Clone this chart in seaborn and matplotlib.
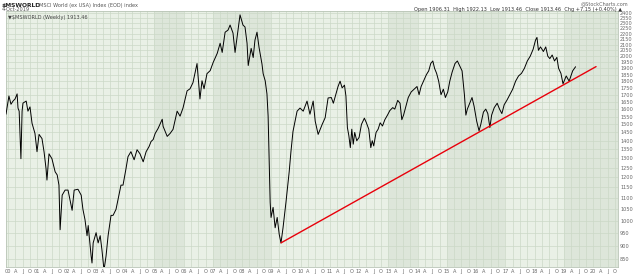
import matplotlib
matplotlib.use("Agg")
import matplotlib.pyplot as plt
import numpy as np
import pandas as pd
import seaborn as sns

# ---- data (decimal year, index value) ----
dates = [1999.93, 2000.03, 2000.10, 2000.17, 2000.24, 2000.31, 2000.34, 2000.38, 2000.44, 2000.48,
         2000.51, 2000.62, 2000.68, 2000.75, 2000.82, 2000.92, 2000.99, 2001.06, 2001.16, 2001.23,
         2001.30, 2001.33, 2001.40, 2001.50, 2001.61, 2001.68, 2001.71, 2001.74, 2001.78, 2001.85,
         2001.95, 2002.05, 2002.19, 2002.26, 2002.39, 2002.50, 2002.56, 2002.63, 2002.70, 2002.74,
         2002.84, 2002.87, 2002.91, 2003.01, 2003.08, 2003.15, 2003.21, 2003.28, 2003.35, 2003.42,
         2003.52, 2003.59, 2003.69, 2003.76, 2003.86, 2003.93, 2004.03, 2004.10, 2004.20, 2004.31,
         2004.41, 2004.51, 2004.62, 2004.72, 2004.82, 2004.89, 2004.96, 2005.03, 2005.13, 2005.27,
         2005.30, 2005.44, 2005.54, 2005.64, 2005.78, 2005.88, 2005.98, 2006.12, 2006.22, 2006.32,
         2006.46, 2006.50, 2006.56, 2006.63, 2006.70, 2006.80, 2006.91, 2007.01, 2007.15, 2007.25,
         2007.32, 2007.42, 2007.52, 2007.59, 2007.69, 2007.76, 2007.83, 2007.93, 2008.03, 2008.10,
         2008.17, 2008.21, 2008.31, 2008.38, 2008.44, 2008.51, 2008.58, 2008.68, 2008.72, 2008.79,
         2008.85, 2008.89, 2008.92, 2008.96, 2008.99, 2009.06, 2009.13, 2009.20, 2009.27, 2009.33,
         2009.40, 2009.50, 2009.61, 2009.67, 2009.74, 2009.88, 2009.98, 2010.09, 2010.22, 2010.32,
         2010.43, 2010.50, 2010.60, 2010.74, 2010.84, 2010.94,
         2011.05, 2011.12, 2011.20, 2011.28, 2011.35, 2011.42, 2011.50, 2011.55, 2011.60, 2011.65,
         2011.70, 2011.75, 2011.80, 2011.85, 2011.92, 2012.00, 2012.08, 2012.18, 2012.25, 2012.33,
         2012.40, 2012.45, 2012.50, 2012.58, 2012.65, 2012.72, 2012.80, 2012.88, 2012.97, 2013.05,
         2013.15, 2013.22, 2013.32, 2013.40, 2013.46, 2013.52, 2013.60, 2013.68, 2013.78, 2013.88,
         2013.98, 2014.05, 2014.12, 2014.20, 2014.30, 2014.38, 2014.45, 2014.52, 2014.58, 2014.65,
         2014.72, 2014.80, 2014.88, 2014.95, 2015.03, 2015.10, 2015.18, 2015.28, 2015.36, 2015.44,
         2015.52, 2015.60, 2015.65, 2015.70, 2015.78, 2015.86, 2015.93, 2016.02, 2016.10, 2016.16,
         2016.25, 2016.33, 2016.40, 2016.47, 2016.53, 2016.62, 2016.72, 2016.80, 2016.88, 2016.96,
         2017.05, 2017.15, 2017.25, 2017.35, 2017.45, 2017.55, 2017.65, 2017.75, 2017.85, 2017.95,
         2018.03, 2018.08, 2018.13, 2018.20, 2018.30, 2018.38, 2018.45, 2018.52, 2018.60, 2018.68,
         2018.76, 2018.82, 2018.90, 2018.97, 2019.08, 2019.18, 2019.30, 2019.40]
values = [1566, 1691, 1633, 1655, 1670, 1706, 1607, 1586, 1298, 1586,
          1641, 1655, 1586, 1615, 1507, 1444, 1337, 1438, 1413, 1337,
          1243, 1186, 1325, 1298, 1228, 1212, 1186, 1161, 962, 1113,
          1137, 1137, 1044, 1137, 1141, 1113, 1048, 1004, 938, 979,
          861, 836, 910, 950, 910, 938, 883, 811, 861, 938,
          1022, 1022, 1048, 1094, 1161, 1161, 1243, 1309, 1337, 1292,
          1348, 1325, 1281, 1337, 1366, 1396, 1407, 1444, 1475, 1533,
          1488, 1426, 1444, 1469, 1586, 1553, 1607, 1728, 1743, 1788,
          1939, 1827, 1670, 1803, 1743, 1858, 1882, 1947, 2024, 2112,
          2032, 2213, 2233, 2281, 2205, 2032, 2167, 2381, 2281, 2262,
          2112, 1923, 2067, 1989, 2140, 2213, 2075, 1935, 1858, 1803,
          1706, 1553, 1337, 1080, 1013, 1057, 970, 1013, 943, 910,
          970, 1080, 1228, 1337, 1456, 1586, 1607, 1586, 1655, 1566,
          1655, 1520, 1438, 1501, 1543, 1677,
          1680, 1640, 1700, 1760, 1800, 1750, 1770, 1690, 1480, 1430,
          1360, 1470, 1380, 1450, 1400, 1420, 1500, 1540, 1510, 1470,
          1360, 1400, 1370, 1450, 1470, 1510, 1490, 1530, 1560, 1590,
          1610, 1600, 1660, 1640, 1530, 1560, 1620, 1680, 1720, 1740,
          1760, 1700, 1760, 1800, 1850, 1880, 1940, 1960, 1900, 1860,
          1800, 1700, 1740, 1680, 1720, 1800, 1870, 1940, 1960, 1920,
          1880, 1700, 1560, 1600, 1640, 1680, 1620, 1520, 1460, 1500,
          1580, 1600, 1570, 1480, 1560, 1610, 1640, 1600, 1570, 1630,
          1660, 1700, 1740, 1800, 1840, 1860, 1900, 1960, 2000, 2060,
          2140, 2165, 2050, 2080, 2040, 2080, 2000, 1980, 2010, 1960,
          1990, 1900, 1860, 1780, 1840, 1800, 1880, 1913]

trend_dates = [2009.33, 2020.10]
trend_values = [910, 1914]

ytick_values = list(range(850, 2401, 50))
year_labels = [f"{y % 100:02d}" for y in range(2000, 2021)]
month_labels = ["A", "J", "O"]
shaded_years = [2005, 2007, 2008, 2013, 2015, 2016, 2019, 2020]

title_symbol = "$MSWORLD"
title_rest = "MSCI World (ex USA) Index (EOD) index"
date_text = "4-Oct-2019"
legend_text = "\u25bc$MSWORLD (Weekly) 1913.46"
credit_text = "@StockCharts.com"
ohlc_text = "Open 1906.31  High 1922.13  Low 1913.46  Close 1913.46  Chg +7.15 (+0.40%) \u25b2"

# ---- figure ----
sns.set_theme(style="white")
plt.rcParams['font.family'] = ['DejaVu Sans']

fig = plt.figure(figsize=(6.4, 2.78), dpi=100)
ax = fig.add_axes([6/640, 11/278, (618-6)/640, (267-11)/278])
ax.set_facecolor('#e9f0e6')

for y in shaded_years:
    ax.axvspan(y, y + 1, color='#dde6da', lw=0, zorder=0)

df = pd.DataFrame({"date": dates, "value": values})
sns.lineplot(data=df, x="date", y="value", ax=ax, color="black", lw=0.7,
             estimator=None, sort=False, zorder=3)
sns.lineplot(x=trend_dates, y=trend_values, ax=ax, color="#e8000b", lw=1.0,
             estimator=None, sort=False, zorder=4)

ax.set_yscale('log')
ax.set_ylim(822, 2420)
ax.set_xlim(1999.93, 2020.85)

ax.yaxis.tick_right()
ax.set_yticks(ytick_values)
ax.set_yticklabels([str(v) for v in ytick_values])
ax.minorticks_off()

xt, xl = [], []
for i, y in enumerate(range(2000, 2021)):
    xt.append(y); xl.append(year_labels[i])
    for q, m in enumerate(month_labels):
        if y + 0.25 * (q + 1) < 2020.85:
            xt.append(y + 0.25 * (q + 1)); xl.append(m)
ax.set_xticks(xt)
ax.set_xticklabels(xl)

ax.tick_params(axis='both', labelsize=3.6, colors='#666666', length=0, pad=1.5)
ax.grid(True, color='#cbd9c7', lw=0.5, zorder=1)
ax.set_axisbelow(True)
ax.set_xlabel("")
ax.set_ylabel("")
for s in ax.spines.values():
    s.set_color('#b8c4b6')
    s.set_linewidth(0.6)

fig.text(2/640, 1 - 5/278, title_symbol, fontsize=4.3, fontweight='bold', color='#222222', va='center')
fig.text(39/640, 1 - 5/278, title_rest, fontsize=3.6, color='#555555', va='center')
fig.text(2/640, 1 - 9.5/278, date_text, fontsize=3.6, color='#555555', va='center')
ax.text(0.003, 0.985, legend_text, transform=ax.transAxes, fontsize=3.6, color='#444444', va='top')
fig.text(628/640, 1 - 4/278, credit_text, fontsize=3.6, color='#666666', va='center', ha='right')
fig.text(622/640, 1 - 9/278, ohlc_text, fontsize=3.6, color='#333333', va='center', ha='right')

fig.savefig("out.png", dpi=100)
